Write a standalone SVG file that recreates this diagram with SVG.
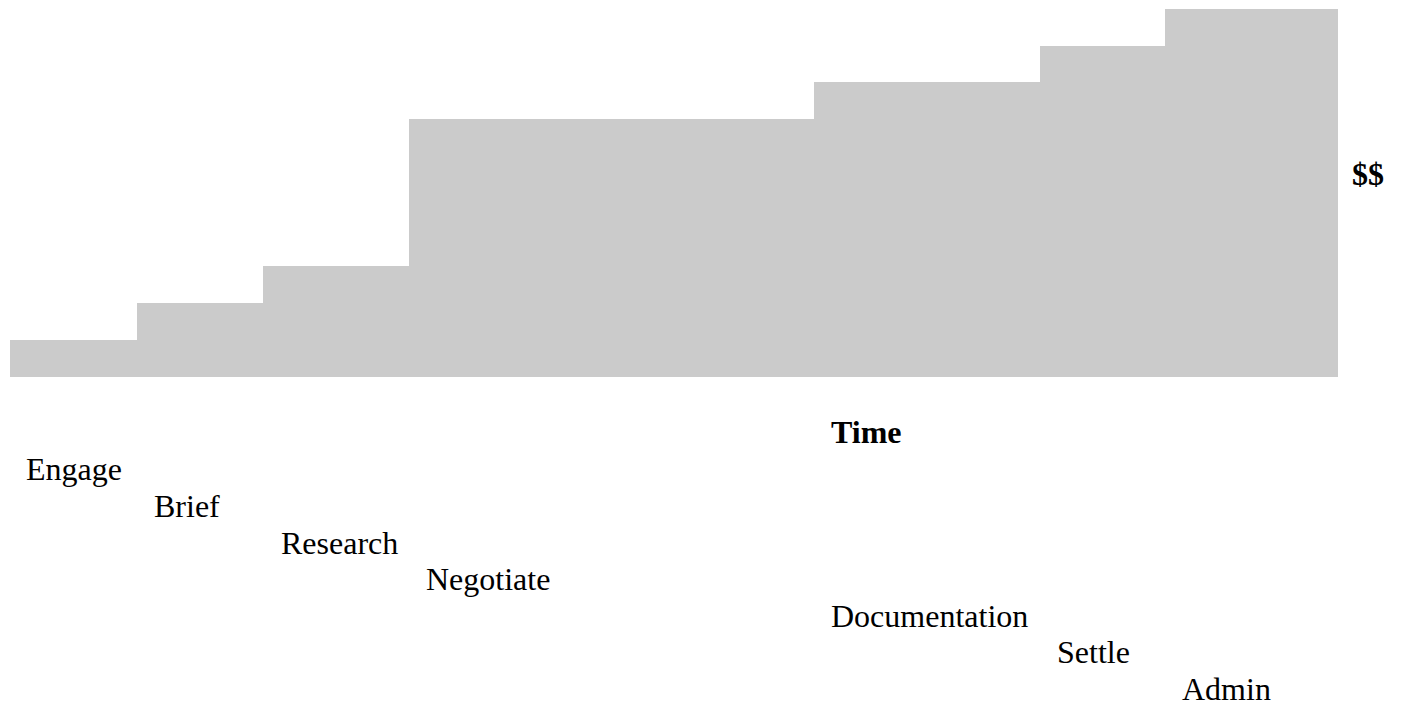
<svg xmlns="http://www.w3.org/2000/svg" width="1403" height="705" viewBox="0 0 1403 705">
  <style>
    .lbl { font-family: "Liberation Serif", "Times New Roman", serif; font-size: 32px; fill: #000; }
    .bold { font-weight: bold; }
    .bar { fill: #cbcbcb; }
  </style>
  <rect width="1403" height="705" fill="#ffffff"/>
  <g id="cost-steps">
    <path class="bar" d="M10,377 L10,340 L137,340 L137,303 L263,303 L263,266 L409,266 L409,119 L814,119 L814,82 L1040,82 L1040,46 L1165,46 L1165,9 L1338,9 L1338,377 Z"/>
  </g>
  <g id="axis-labels">
    <text id="label-cost" class="lbl bold" x="1352" y="185">$$</text>
    <text id="label-time" class="lbl bold" x="831" y="443">Time</text>
  </g>
  <g id="stage-engage"><text class="lbl" x="26" y="480">Engage</text></g>
  <g id="stage-brief"><text class="lbl" x="154" y="517">Brief</text></g>
  <g id="stage-research"><text class="lbl" x="281" y="554">Research</text></g>
  <g id="stage-negotiate"><text class="lbl" x="426" y="590">Negotiate</text></g>
  <g id="stage-documentation"><text class="lbl" x="831" y="627">Documentation</text></g>
  <g id="stage-settle"><text class="lbl" x="1057" y="663">Settle</text></g>
  <g id="stage-admin"><text class="lbl" x="1182" y="700">Admin</text></g>
  <g id="connectors"></g>
</svg>
